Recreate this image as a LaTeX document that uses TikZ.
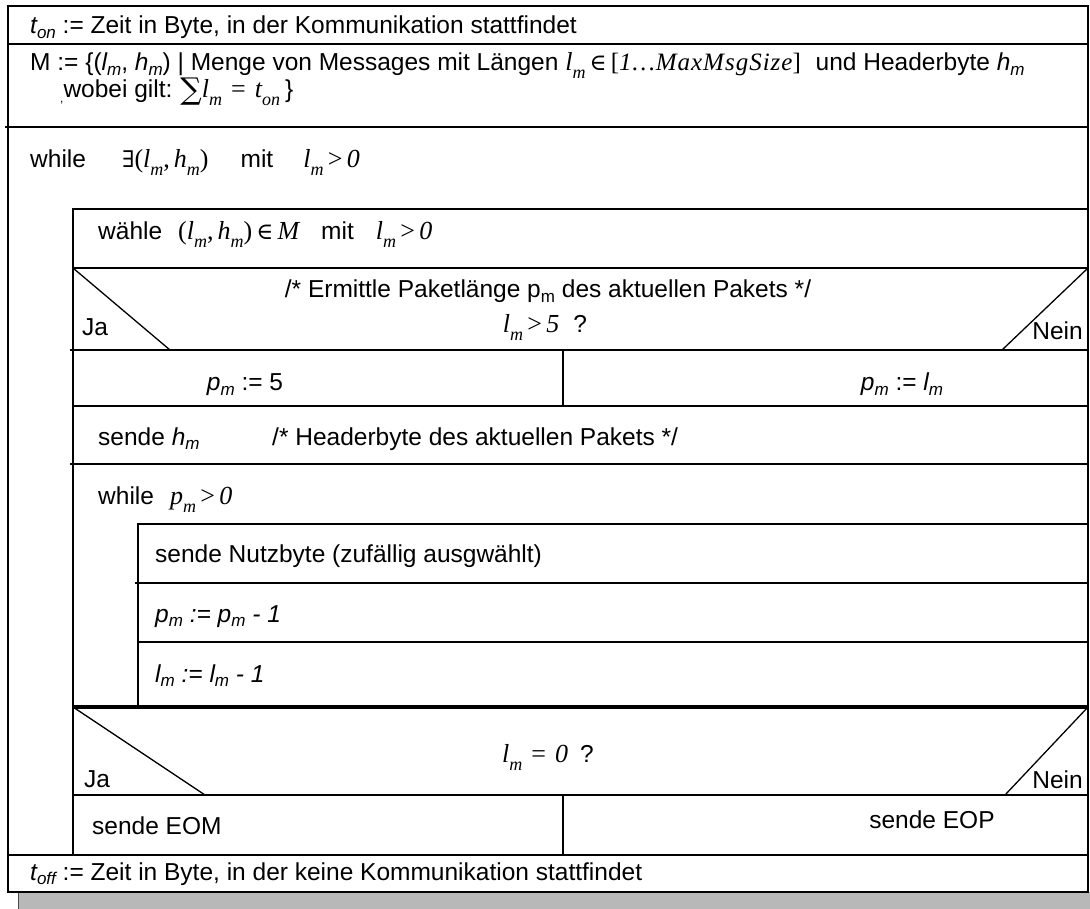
\documentclass[tikz,border=0pt]{standalone}
\usepackage{fontspec}
\setmainfont{Liberation Sans}
\newfontfamily\tms{Liberation Serif}
\newfontfamily\symf{DejaVu Serif}

% subscript for the sans text
\newcommand\sub[1]{\raisebox{-4.5pt}{\fontsize{17}{18}\selectfont #1}}
% italic sans variable with subscript
\newcommand\av[2]{{\itshape #1\sub{#2}}}
% italic serif variable with subscript (formula style)
\newcommand\tv[2]{{\tms\itshape\fontsize{26}{28}\selectfont #1\raisebox{-8pt}{\fontsize{18}{18}\selectfont #2}}}
\newcommand\tsym[1]{{\symf\fontsize{23}{26}\selectfont #1}}
\newcommand\tup[1]{{\tms\fontsize{26}{28}\selectfont #1}}
\newcommand\tit[1]{{\tms\itshape\fontsize{26}{28}\selectfont #1}}

\tikzset{
  frame/.style={line width=2.5pt, line cap=rect},
  heavy/.style={line width=4pt},
  diag/.style={line width=1.3pt},
  txt/.style={anchor=base west, inner sep=0pt, font=\fontsize{24.5}{28}\selectfont},
  ctxt/.style={anchor=base, inner sep=0pt, font=\fontsize{24.5}{28}\selectfont},
  rtxt/.style={anchor=base east, inner sep=0pt, font=\fontsize{24.5}{28}\selectfont},
}

\begin{document}
\begin{tikzpicture}[x=1pt,y=-1pt]
\useasboundingbox (0,0) rectangle (1090,909);

% drop shadow below the chart
\fill[black!28] (18,892) rectangle (1090,909);
\draw[line width=1pt, black!70] (18,892) -- (18,909);

% outer frame and top-level rows
\draw[frame] (8,6) rectangle (1088,892);
\draw[frame] (8,44) -- (1088,44);
\draw[frame] (6,127) -- (1088,127);
\draw[frame] (8,855) -- (1088,855);

% body of the outer while loop
\draw[frame] (73,209) -- (73,855);
\draw[frame] (73,209) -- (1088,209);
\draw[frame] (73,268) -- (1088,268);
\draw[frame] (71,350) -- (1088,350);
\draw[frame] (563,350) -- (563,406);
\draw[frame] (73,406) -- (1088,406);
\draw[frame] (71,464) -- (1088,464);
\draw[heavy] (73,707) -- (1088,707);
\draw[frame] (73,795) -- (1088,795);
\draw[frame] (563,795) -- (563,855);

% body of the inner while loop
\draw[frame] (138,524) -- (138,707);
\draw[frame] (138,524) -- (1088,524);
\draw[frame] (136,583) -- (1088,583);
\draw[frame] (138,642) -- (1088,642);

% decision triangles
\draw[diag] (73,268) -- (170,350);
\draw[diag] (1088,268) -- (1002,350);
\draw[diag] (73,707) -- (205,795);
\draw[diag] (1088,707) -- (1005,795);

% texts
\node[txt] (ton) at (30,34) {\av{t}{on} := Zeit in Byte, in der Kommunikation stattfindet};

\node[txt] (mset) at (30,71) {M := \{(\av{l}{m}, \av{h}{m}) | Menge von Messages mit L\"angen
  \tv{l}{m}\,\tsym{∈}\,{\tms\fontsize{25}{28}\selectfont[{\itshape\addfontfeature{LetterSpace=4}1…MaxMsgSize}]}\hspace{8pt}
  und Headerbyte \av{h}{m}};
\node[txt] (wobei) at (60,98) {\raisebox{-5pt}{\fontsize{12}{12}\selectfont ,}wobei gilt:\hspace{8pt}%
  \raisebox{-2pt}{\symf\fontsize{30}{30}\selectfont ∑}\tv{l}{m}\hspace{9pt}\tup{=}\hspace{9pt}\tv{t}{on}\hspace{5pt}\}};

\node[txt] (wh1) at (30,168) {while\hspace{36pt}\tsym{∃}\tup{(}\tv{l}{m}\tup{,}\,\tv{h}{m}\tup{)}\hspace{32pt}mit\hspace{30pt}\tv{l}{m}\tup{\,>\,}\tit{0}};

\node[txt] (pick) at (98,240) {w\"ahle\hspace{16pt}\tup{(}\tv{l}{m}\tup{,}\,\tv{h}{m}\tup{)}\,\tsym{∈}\,\tit{M}\hspace{22pt}mit\hspace{22pt}\tv{l}{m}\tup{\,>\,}\tit{0}};

\node[ctxt] (cmt1) at (548,298) {/* Ermittle Paketl\"ange p\sub{m} des aktuellen Pakets */};
\node[ctxt] (cond1) at (545,333) {\tv{l}{m}\tup{\,>\,}\tit{5}\hspace{14pt}?};
\node[txt] (ja1) at (82,336) {Ja};
\node[rtxt] (nein1) at (1083,340) {Nein};

\node[ctxt] (pfive) at (245,391) {\av{p}{m} := 5};
\node[ctxt] (plm) at (902,391) {\av{p}{m} := \av{l}{m}};

\node[txt] (hdr) at (98,445) {sende \av{h}{m}};
\node[txt] (cmt2) at (272,445) {/* Headerbyte des aktuellen Pakets */};

\node[txt] (wh2) at (98,504) {while\hspace{16pt}\tv{p}{m}\tup{\,>\,}\tit{0}};

\node[txt] (nutz) at (155,562) {sende Nutzbyte (zuf\"allig ausgw\"ahlt)};
\node[txt] (pdec) at (155,622) {\itshape p\sub{m} := p\sub{m} - 1};
\node[txt] (ldec) at (155,682) {\itshape l\sub{m} := l\sub{m} - 1};

\node[ctxt] (cond2) at (548,762) {\tv{l}{m}\hspace{9pt}\tup{=}\hspace{9pt}\tit{0}\hspace{12pt}?};
\node[txt] (ja2) at (84,787) {Ja};
\node[rtxt] (nein2) at (1083,788) {Nein};

\node[txt] (eom) at (92,834) {sende EOM};
\node[ctxt] (eop) at (932,828) {sende EOP};

\node[txt] (toff) at (30,880) {\av{t}{off} := Zeit in Byte, in der keine Kommunikation stattfindet};
\end{tikzpicture}
\end{document}
